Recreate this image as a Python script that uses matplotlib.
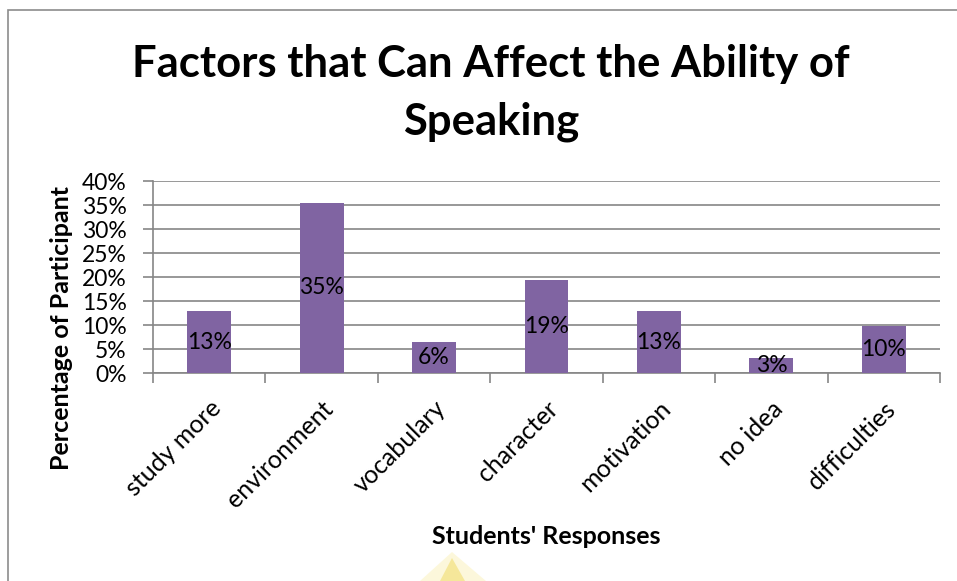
import matplotlib
matplotlib.use("Agg")
import matplotlib.pyplot as plt
from matplotlib.ticker import FixedLocator, PercentFormatter
from matplotlib.transforms import ScaledTranslation
from matplotlib.patches import Polygon
import numpy as np

categories = ["study more", "environment", "vocabulary", "character",
              "motivation", "no idea", "difficulties"]
values = [12.9, 35.5, 6.5, 19.4, 12.9, 3.2, 9.7]
labels = ["13%", "35%", "6%", "19%", "13%", "3%", "10%"]
yticks = [0, 5, 10, 15, 20, 25, 30, 35, 40]

plt.rcParams['font.family'] = ['Lato', 'DejaVu Sans']

W, H = 957, 581
fig = plt.figure(figsize=(W/100, H/100), dpi=100)

# chart border
border = plt.Rectangle((8/W, -0.01), 1.0, 1 - 10/H + 0.01, transform=fig.transFigure,
                       fill=False, edgecolor='#8c8c8c', linewidth=1.2)
fig.patches.append(border)

# faint yellow mark at the bottom
glow = Polygon([(420/W, 0), (452/W, 1 - 552/H), (486/W, 0)], closed=True,
               transform=fig.transFigure, facecolor='#fcf6d2', edgecolor='none', alpha=0.8)
core = Polygon([(440/W, 0), (452/W, 1 - 558/H), (465/W, 0)], closed=True,
               transform=fig.transFigure, facecolor='#f4e48a', edgecolor='none', alpha=0.8)
fig.patches.extend([glow, core])

ax = fig.add_axes([153/W, 1 - 373/H, (940-153)/W, (373-181)/H])
x = np.arange(len(categories))
ax.bar(x, values, width=0.39, color='#8064A2', zorder=3)
for xi, v, lab in zip(x, values, labels):
    ax.text(xi, v/2, lab, ha='center', va='center', fontsize=16.5, color='black', zorder=4)

ax.set_xlim(-0.5, len(categories) - 0.5)
ax.set_ylim(0, 40)
ax.set_yticks(yticks)
ax.yaxis.set_major_formatter(PercentFormatter(decimals=0))
ax.set_xticks(x)
ax.set_xticklabels(categories, rotation=45, ha='right', va='top',
                   rotation_mode='anchor', fontsize=18)
off = ScaledTranslation(4/100, 0, fig.dpi_scale_trans)
for t in ax.get_xticklabels():
    t.set_transform(t.get_transform() + off)
ax.xaxis.set_minor_locator(FixedLocator(np.arange(-0.5, len(categories), 1.0)))
ax.tick_params(axis='x', which='major', length=0, pad=17)
ax.tick_params(axis='x', which='minor', length=7, color='#868686', width=1.2)
ax.tick_params(axis='y', length=7, color='#868686', width=1.2, labelsize=16.5, pad=12)
ax.grid(axis='y', color='#868686', linewidth=1.2, zorder=0)
for s in ['top', 'right']:
    ax.spines[s].set_visible(False)
for s in ['left', 'bottom']:
    ax.spines[s].set_color('#868686')
    ax.spines[s].set_linewidth(1.2)

fig.text(491/W, 1 - 64/H, "Factors that Can Affect the Ability of", ha='center', va='center',
         fontsize=31.4, fontweight='bold')
fig.text(491/W, 1 - 122/H, "Speaking", ha='center', va='center',
         fontsize=31.4, fontweight='bold')
fig.text(546/W, 1 - 537/H, "Students' Responses", ha='center', va='center',
         fontsize=18, fontweight='bold')
fig.text(62/W, 1 - 328/H, "Percentage of Participant", ha='center', va='center',
         rotation=90, fontsize=18, fontweight='bold')

fig.savefig("out.png", dpi=100, facecolor='white')
